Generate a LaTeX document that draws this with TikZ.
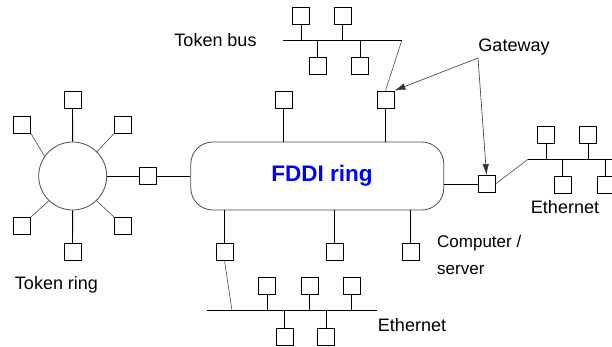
\documentclass[tikz,border=0pt]{standalone}
\usepackage{fontspec}
\setmainfont{Liberation Sans}
\usetikzlibrary{arrows.meta}
\begin{document}
\begin{tikzpicture}[x=1pt,y=-1pt,
  host/.style={draw=black,line width=0.9pt,minimum size=17pt,inner sep=0pt},
  stem/.style={draw=black,line width=0.9pt},
  thin/.style={draw=black!70,line width=0.6pt},
  lbl/.style={font=\fontsize{18}{20}\selectfont,inner sep=0pt},
  arr/.style={draw=black!80,line width=0.6pt,-{Latex[length=11pt,width=6.5pt]}}]
\useasboundingbox (0,0) rectangle (612,347);

% Token ring
\node[circle,draw=black!70,line width=0.8pt,minimum size=68pt,inner sep=0pt] (tr) at (72.7,176) {};
\node[host] (trT) at (72.5,100) {};
\node[host] (trUL) at (22,124.5) {};
\node[host] (trUR) at (123,124.5) {};
\node[host] (trLL) at (22,226) {};
\node[host] (trLR) at (123,226) {};
\node[host] (trB) at (72.5,252) {};
\node[host] (trG) at (148,176) {};
\draw[stem] (tr.north) -- (trT.south);
\draw[stem] (tr.south) -- (trB.north);
\draw[thin] (tr.145) -- (trUL.south east);
\draw[thin] (tr.45) -- (trUR.south west);
\draw[thin] (tr.226) -- (trLL.north east);
\draw[thin] (tr.314) -- (trLR.north west);
\draw[stem] (tr.east) -- (trG.west);

% FDDI ring
\node[draw=black!70,line width=0.8pt,rounded corners=22pt,minimum width=253pt,minimum height=68pt,inner sep=0pt] (fddi) at (317.3,176) {};
\node[text=blue,font=\fontsize{22.5}{24}\selectfont\bfseries,inner sep=0pt] (fdditext) at (322,176) {FDDI ring};
\draw[stem] (trG.east) -- (trG.east -| fddi.west);

% top hosts of FDDI
\node[host] (fT1) at (283.5,99.5) {};
\node[host] (gw1) at (385.5,99.5) {};
\draw[stem] (fT1.south) -- (fT1.south |- fddi.north);
\draw[stem] (gw1.south) -- (gw1.south |- fddi.north);

% Token bus
\coordinate (tbL) at (283,40.7);
\coordinate (tbR) at (401.7,40.7);
\draw[stem] (tbL) -- (tbR);
\node[host] (tb1) at (301,15.5) {};
\node[host] (tb2) at (342.5,15.5) {};
\node[host] (tb3) at (317.5,66) {};
\node[host] (tb4) at (360,66) {};
\draw[stem] (tb1.south) -- (tb1.south |- tbL);
\draw[stem] (tb2.south) -- (tb2.south |- tbL);
\draw[stem] (tb3.north) -- (tb3.north |- tbL);
\draw[stem] (tb4.north) -- (tb4.north |- tbL);
\draw[thin] (tbR) -- (gw1.north);
\node[lbl] (tbtext) at (215.5,40) {Token bus};

% Gateway label and arrows
\node[lbl] (gwtext) at (514,47) {Gateway};
\coordinate (gwp) at (478,58);
\node[host] (gw2) at (486.5,184) {};
\draw[arr] (gwp) -- (gw1.north east);
\draw[arr] (gwp) -- (gw2.north);
\draw[stem] (gw2.west -| fddi.east) -- (gw2.west);

% Right Ethernet
\coordinate (erL) at (528,159.3);
\coordinate (erR) at (612,159.3);
\draw[thin] (gw2.east) -- (erL);
\draw[stem] (erL) -- (erR);
\node[host] (er1) at (546,134.5) {};
\node[host] (er2) at (588,134.5) {};
\node[host] (er3) at (562.5,184.5) {};
\node[host] (er4) at (605.5,184.5) {};
\draw[stem] (er1.south) -- (er1.south |- erL);
\draw[stem] (er2.south) -- (er2.south |- erL);
\draw[stem] (er3.north) -- (er3.north |- erL);
\draw[stem] (er4.north) -- (er4.north |- erL);
\node[lbl] (ertext) at (565,207) {Ethernet};

% bottom hosts of FDDI
\node[host] (fB1) at (224.5,251.5) {};
\node[host] (fB2) at (334.5,251.5) {};
\node[host] (fB3) at (410.5,251.5) {};
\draw[stem] (fB1.north) -- (fB1.north |- fddi.south);
\draw[stem] (fB2.north) -- (fB2.north |- fddi.south);
\draw[stem] (fB3.north) -- (fB3.north |- fddi.south);
\node[lbl,anchor=west,font=\fontsize{17}{20}\selectfont] (cs1) at (437,243) {Computer /};
\node[lbl,anchor=west,font=\fontsize{17}{20}\selectfont] (cs2) at (437,270) {server};

% Bottom Ethernet
\coordinate (ebL) at (207,310.7);
\coordinate (ebR) at (377,310.7);
\coordinate (ebJ) at (232,310.7);
\draw[stem] (ebL) -- (ebR);
\draw[thin] (fB1.south) -- (ebJ);
\node[host] (eb1) at (267,285.5) {};
\node[host] (eb2) at (309.5,285.5) {};
\node[host] (eb3) at (351.5,285.5) {};
\node[host] (eb4) at (284.5,337) {};
\node[host] (eb5) at (326,337) {};
\draw[stem] (eb1.south) -- (eb1.south |- ebL);
\draw[stem] (eb2.south) -- (eb2.south |- ebL);
\draw[stem] (eb3.south) -- (eb3.south |- ebL);
\draw[stem] (eb4.north) -- (eb4.north |- ebL);
\draw[stem] (eb5.north) -- (eb5.north |- ebL);
\node[lbl] (ebtext) at (412,325) {Ethernet};

\node[lbl] (trtext) at (56.5,285) {Token ring};
\end{tikzpicture}
\end{document}
